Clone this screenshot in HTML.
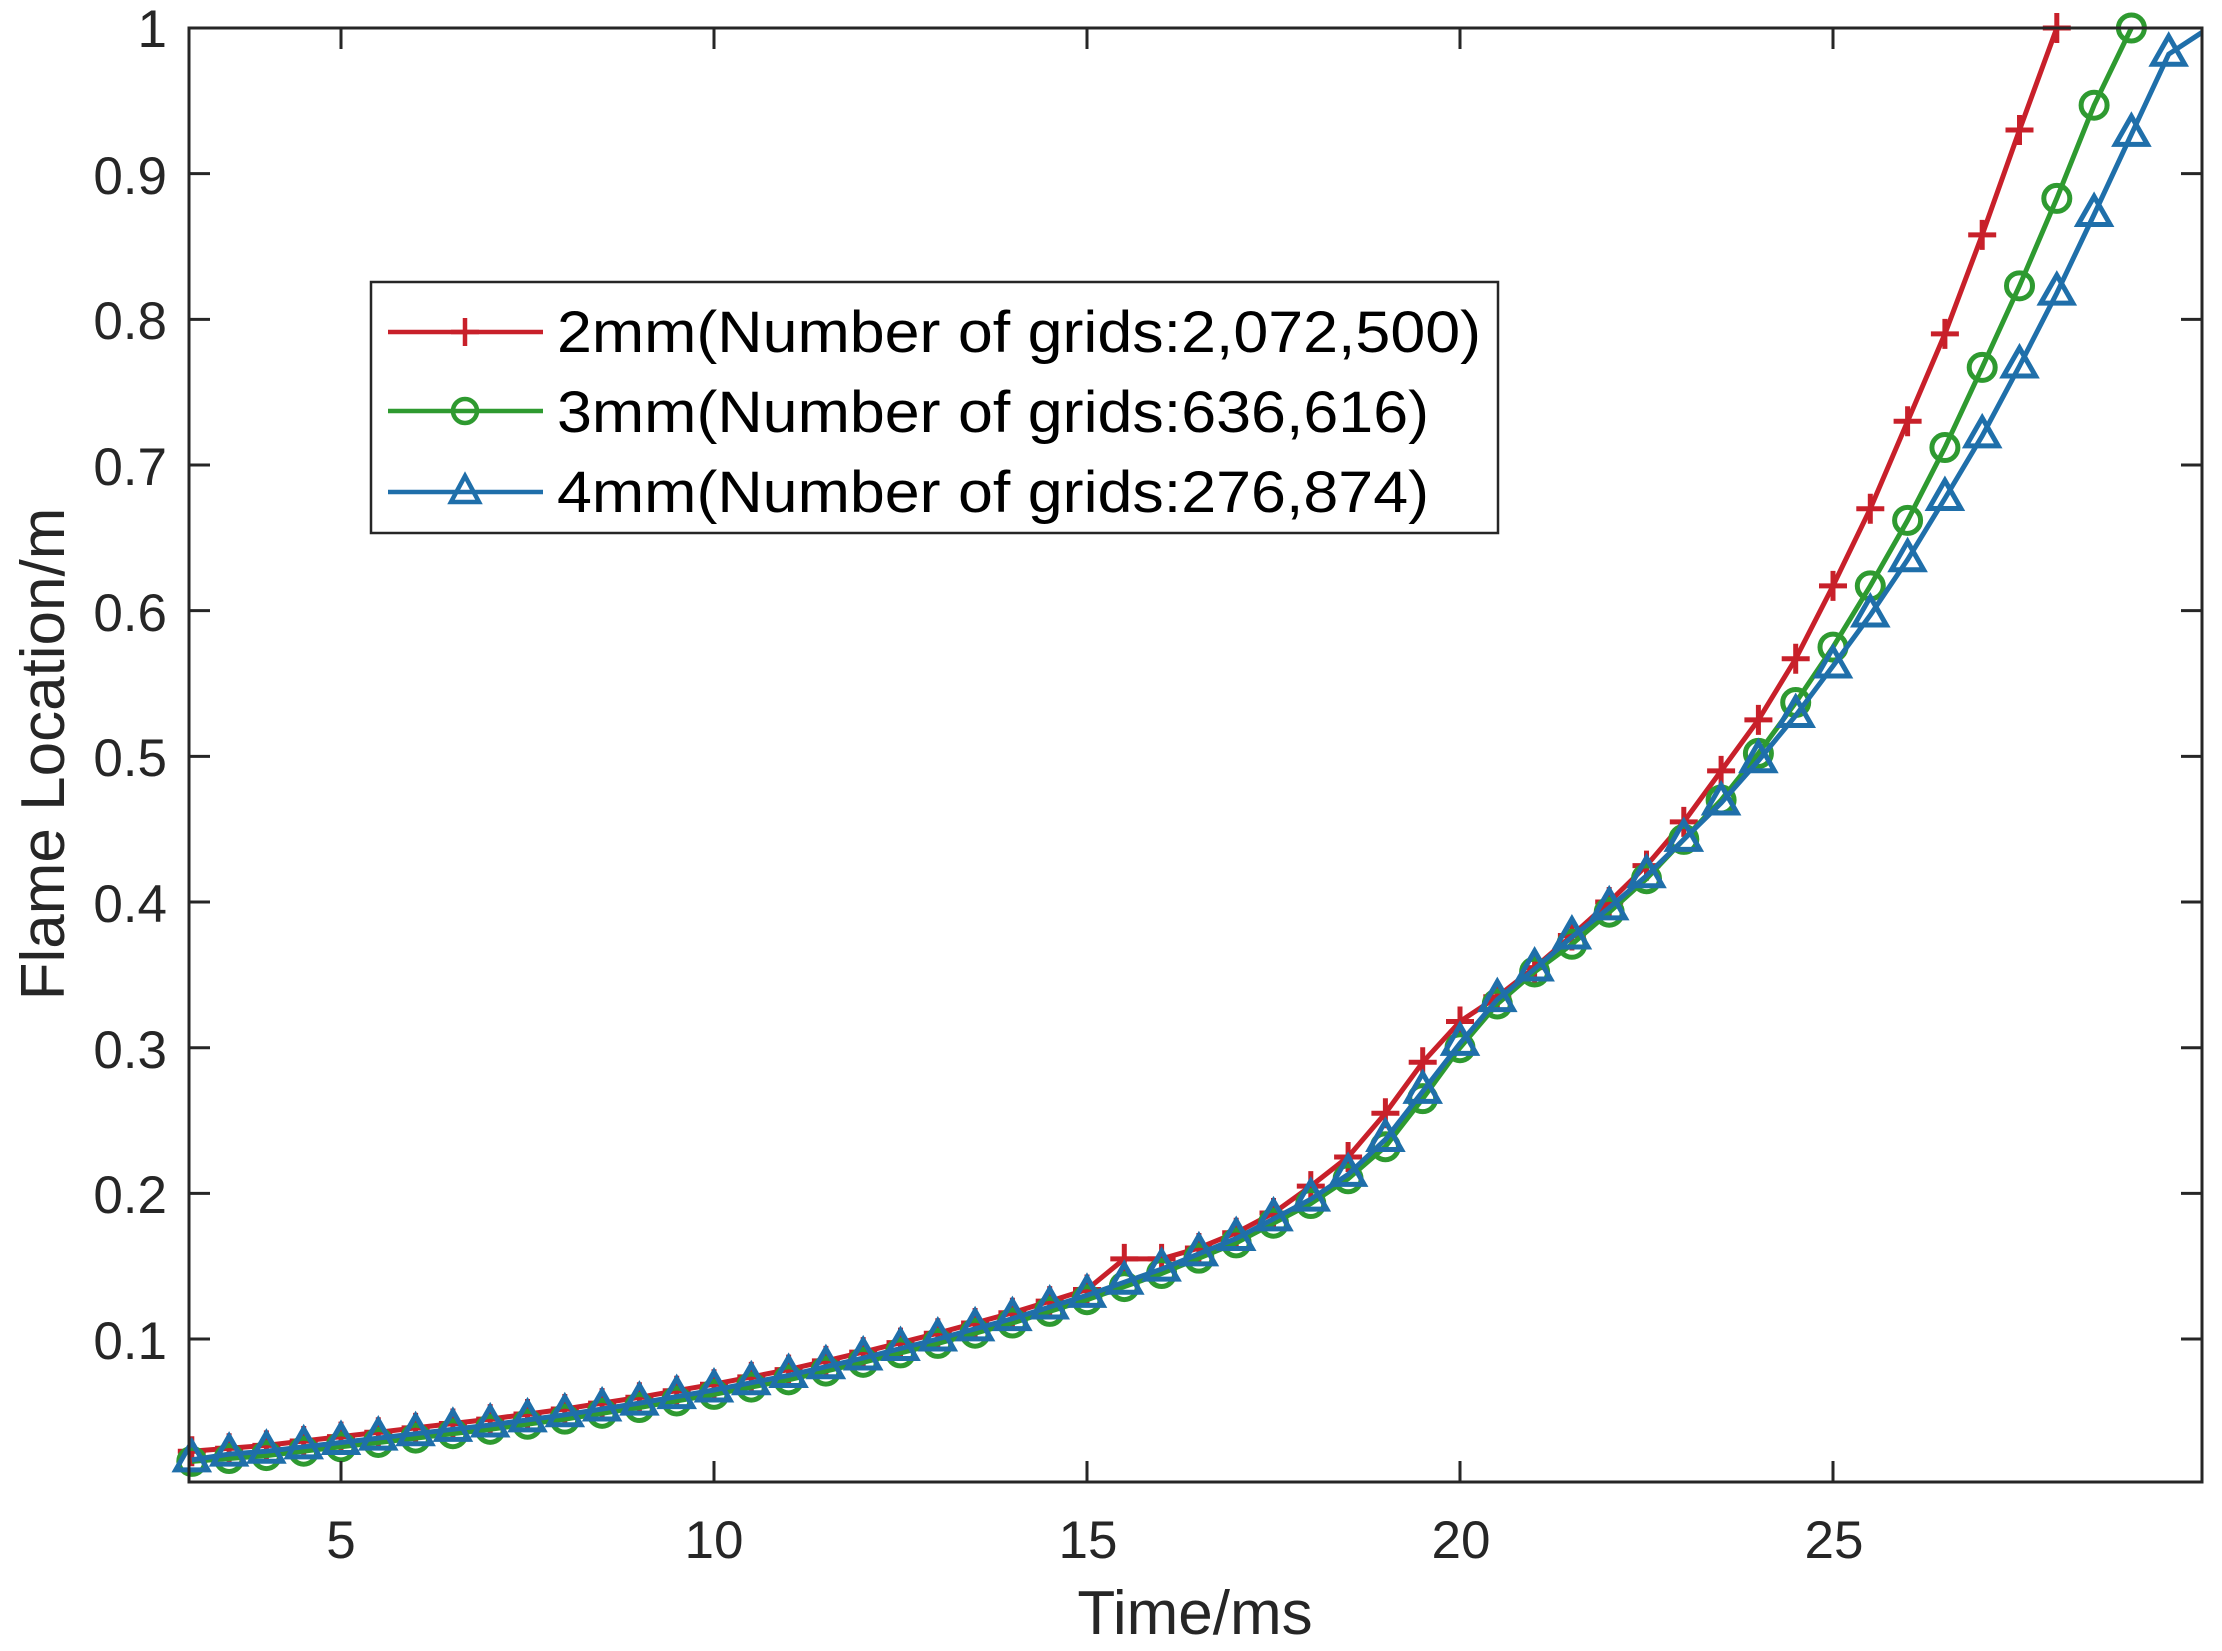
<!DOCTYPE html>
<html><head><meta charset="utf-8"><style>
html,body{margin:0;padding:0;background:#fff;}
svg{display:block;font-family:"Liberation Sans",Arial,sans-serif;}
</style></head><body>
<svg id="s" width="2222" height="1651" viewBox="0 0 2222 1651" xmlns="http://www.w3.org/2000/svg">
<rect width="2222" height="1651" fill="#fff"/>
<g id="plot"></g>
<rect x="189" y="28" width="2013" height="1454" fill="none" stroke="#262626" stroke-width="3"/>
<g id="ticks" stroke="#262626" stroke-width="3"></g>
<g font-size="53" fill="#262626" text-anchor="end">
<text x="167" y="47">1</text>
<text x="167" y="194">0.9</text>
<text x="167" y="339">0.8</text>
<text x="167" y="485">0.7</text>
<text x="167" y="631">0.6</text>
<text x="167" y="776">0.5</text>
<text x="167" y="922">0.4</text>
<text x="167" y="1068">0.3</text>
<text x="167" y="1213">0.2</text>
<text x="167" y="1359">0.1</text>
</g>
<g font-size="53" fill="#262626" text-anchor="middle">
<text x="341" y="1558">5</text>
<text x="714" y="1558">10</text>
<text x="1088" y="1558">15</text>
<text x="1461" y="1558">20</text>
<text x="1834" y="1558">25</text>
</g>
<text x="1195" y="1634" font-size="62" fill="#262626" text-anchor="middle">Time/ms</text>
<text transform="translate(64,754) rotate(-90)" font-size="62" fill="#262626" text-anchor="middle">Flame Location/m</text>
<rect x="371" y="282" width="1127" height="251" fill="#fff" stroke="#262626" stroke-width="2.5"/>
<g stroke-width="4.5" fill="none">
<line x1="388" y1="332" x2="543" y2="332" stroke="#C8202A"/>
<line x1="465" y1="318" x2="465" y2="346" stroke="#C8202A"/><line x1="451" y1="332" x2="479" y2="332" stroke="#C8202A"/>
<line x1="388" y1="411" x2="543" y2="411" stroke="#2E9A30"/>
<circle cx="465" cy="411" r="12" stroke="#2E9A30"/>
<line x1="388" y1="492" x2="543" y2="492" stroke="#1F6FAA"/>
<polygon points="465,476 479,502 451,502" stroke="#1F6FAA"/>
</g>
<g font-size="58" fill="#000">
<text x="557" y="352" textLength="924" lengthAdjust="spacingAndGlyphs">2mm(Number of grids:2,072,500)</text>
<text x="557" y="432" textLength="872" lengthAdjust="spacingAndGlyphs">3mm(Number of grids:636,616)</text>
<text x="557" y="512" textLength="872" lengthAdjust="spacingAndGlyphs">4mm(Number of grids:276,874)</text>
</g>
</svg>
<script>
(function(){
var NS="http://www.w3.org/2000/svg";
function X(t){return 341+(t-5)*74.6;}
function Y(v){return 28+(1-v)*1456.7;}
var base={3:0.019,4:0.023,5:0.029,6:0.035,7:0.041,8:0.048,9:0.056,10:0.065,11:0.075,12:0.087,13:0.100,14:0.114,15:0.130,16:0.148,17:0.169,18:0.196,18.5:0.213};
function baseAt(t){var ks=Object.keys(base).map(Number).sort(function(a,b){return a-b});
 for(var i=0;i<ks.length-1;i++){if(t>=ks[i]&&t<=ks[i+1]){var f=(t-ks[i])/(ks[i+1]-ks[i]);return base[ks[i]]+f*(base[ks[i+1]]-base[ks[i]]);}}return base[ks[ks.length-1]];}
function mk(off,hi,limit){var pts=[];for(var t=3;t<=limit+1e-9;t+=0.5){var v;if(hi[t]!==undefined)v=hi[t];else v=baseAt(t)+off;pts.push([t,v]);}return pts;}
var red=mk(0.004,{15.5:0.155,16:0.155,18:0.205,18.5:0.225,19:0.255,19.5:0.29,20:0.318,20.5:0.335,21:0.355,21.5:0.377,22:0.40,22.5:0.425,23:0.455,23.5:0.49,24:0.525,24.5:0.567,25:0.617,25.5:0.67,26:0.73,26.5:0.79,27:0.858,27.5:0.93,28:1.0},28);
var green=mk(-0.003,{19:0.232,19.5:0.265,20:0.30,20.5:0.33,21:0.352,21.5:0.371,22:0.393,22.5:0.416,23:0.443,23.5:0.47,24:0.502,24.5:0.537,25:0.575,25.5:0.617,26:0.662,26.5:0.712,27:0.767,27.5:0.823,28:0.883,28.5:0.947,29:1.0},29);
var blue=mk(0,{3:0.017,19:0.237,19.5:0.27,20:0.303,20.5:0.333,21:0.354,21.5:0.376,22:0.396,22.5:0.418,23:0.443,23.5:0.468,24:0.497,24.5:0.528,25:0.562,25.5:0.597,26:0.635,26.5:0.677,27:0.72,27.5:0.768,28:0.818,28.5:0.872,29:0.927,29.5:0.982},29.5);
var g=document.getElementById("plot");
function el(n,a){var e=document.createElementNS(NS,n);for(var k in a)e.setAttribute(k,a[k]);g.appendChild(e);return e;}
function series(pts,col,type,extra){
 var d=pts.map(function(p,i){return (i?"L":"M")+X(p[0]).toFixed(1)+" "+Y(p[1]).toFixed(1);}).join(" ");
 if(extra)d+=" L"+extra[0]+" "+extra[1];
 el("path",{d:d,stroke:col,"stroke-width":5,fill:"none"});
 pts.forEach(function(p){var x=X(p[0]),y=Y(p[1]);
  if(type==="+"){el("path",{d:"M"+(x-14)+" "+y+"H"+(x+14)+"M"+x+" "+(y-15)+"V"+(y+15),stroke:col,"stroke-width":5,fill:"none"});}
  else if(type==="o"){el("circle",{cx:x,cy:y,r:13,stroke:col,"stroke-width":5,fill:"none"});}
  else {el("polygon",{points:x+","+(y-18)+" "+(x+16)+","+(y+10)+" "+(x-16)+","+(y+10),stroke:col,"stroke-width":5,fill:"none"});}
 });
}
series(red,"#C8202A","+");
series(green,"#2E9A30","o");
series(blue,"#1F6FAA","^",[2202,Y(0.997)]);
var t=document.getElementById("ticks");
function ln(x1,y1,x2,y2){var e=document.createElementNS(NS,"line");e.setAttribute("x1",x1);e.setAttribute("y1",y1);e.setAttribute("x2",x2);e.setAttribute("y2",y2);t.appendChild(e);}
[5,10,15,20,25].forEach(function(v){var x=X(v);ln(x,1482,x,1461);ln(x,28,x,49);});
for(var i=1;i<=10;i++){var y=Y(i/10);ln(189,y,210,y);ln(2202,y,2181,y);}
})();
</script>
</body></html>
